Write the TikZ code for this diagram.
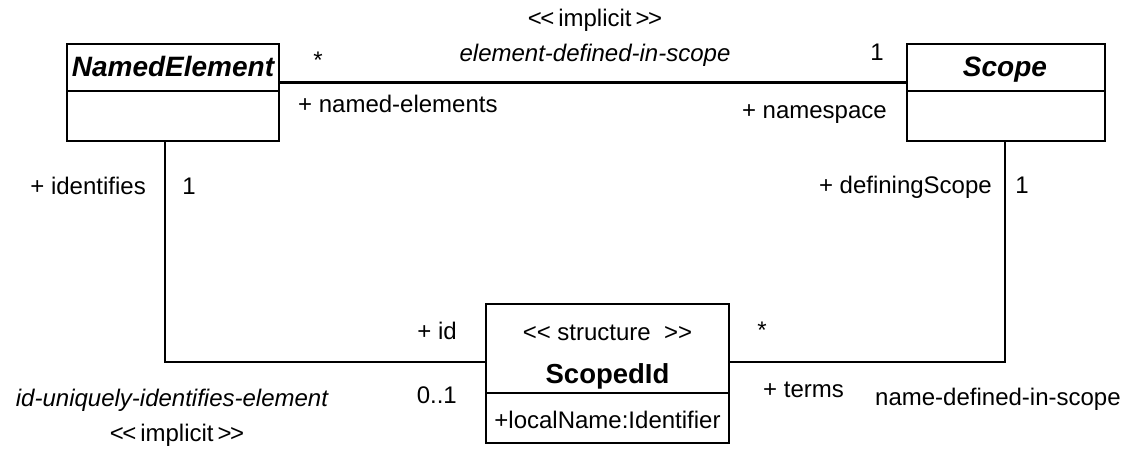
\documentclass[tikz,border=0pt]{standalone}
\usepackage{fontspec}
\setmainfont{Liberation Sans}
\newcommand{\implicitlbl}{<\kern-1.5pt<\hspace{4pt}implicit\hspace{4pt}>\kern-1.5pt>}
\begin{document}
\begin{tikzpicture}[x=1pt,y=-1pt,
  lbl/.style={inner sep=0pt, font=\fontsize{24}{28}\selectfont},
  ilbl/.style={inner sep=0pt, font=\fontsize{24}{28}\selectfont\itshape},
  umlbox/.style={draw, line width=2pt, inner sep=0pt},
  title/.style={inner sep=0pt, font=\fontsize{28}{32}\selectfont\bfseries\itshape},
  btitle/.style={inner sep=0pt, font=\fontsize{27.5}{32}\selectfont\bfseries},
  assoc/.style={line width=2pt},
  divline/.style={line width=2pt}]
\useasboundingbox (0,0) rectangle (1135,452);
% class boxes
\node[umlbox, minimum width=212pt, minimum height=97pt] (ne) at (173,92.5) {};
\node[umlbox, minimum width=198pt, minimum height=97pt] (sc) at (1006,92.5) {};
\node[umlbox, minimum width=243pt, minimum height=139pt] (sid) at (607.5,373.5) {};
% dividers
\draw[divline] ([yshift=-48pt]ne.north west) -- ([yshift=-48pt]ne.north east);
\draw[divline] ([yshift=-48pt]sc.north west) -- ([yshift=-48pt]sc.north east);
\draw[divline] ([yshift=-90pt]sid.north west) -- ([yshift=-90pt]sid.north east);
% titles
\node[title, anchor=base] (neT) at (173,77) {NamedElement};
\node[title, anchor=base] (scT) at (1005,77) {Scope};
\node[lbl, anchor=base] (sidS) at (607.5,340) {<{}<\ structure\ \ >{}>};
\node[btitle, anchor=base] (sidT) at (607.5,383) {ScopedId};
\node[lbl, anchor=base] (sidA) at (607.5,428) {+localName:Identifier};
% connectors
\draw[line width=3pt] ([yshift=-39pt]ne.north east) -- ([yshift=-39pt]sc.north west);
\draw[assoc] ([xshift=-8pt]ne.south) |- ([yshift=11.5pt]sid.west);
\draw[assoc] ([xshift=-1pt]sc.south) |- ([yshift=11.5pt]sid.east);
% top association labels
\node[lbl, anchor=base] (impTop) at (595,27) {\implicitlbl};
\node[ilbl, anchor=base] (edis) at (595,62) {element-defined-in-scope};
\node[lbl, anchor=base] (mulA) at (318,68) {*};
\node[lbl, anchor=base] (mulB) at (877,61) {1};
\node[lbl, anchor=base west] (rneA) at (298,112) {+ named-elements};
\node[lbl, anchor=base east] (rnsA) at (887,118) {+ namespace};
% left association labels
\node[lbl, anchor=base east] (rid1) at (146,194) {+ identifies};
\node[lbl, anchor=base] (mul1) at (189,194) {1};
\node[lbl, anchor=base east] (rid2) at (457,339) {+ id};
\node[lbl, anchor=base east] (mul2) at (457,403) {0..1};
\node[ilbl, anchor=base] (iuie) at (172,406) {id-uniquely-identifies-element};
\node[lbl, anchor=base] (impBot) at (177,441) {\implicitlbl};
% right association labels
\node[lbl, anchor=base east] (rds) at (992,193) {+ definingScope};
\node[lbl, anchor=base] (mul3) at (1022,193) {1};
\node[lbl, anchor=base] (mul4) at (762,338) {*};
\node[lbl, anchor=base west] (rterms) at (763,397) {+ terms};
\node[lbl, anchor=base west] (ndis) at (875,405) {name-defined-in-scope};
\end{tikzpicture}
\end{document}
